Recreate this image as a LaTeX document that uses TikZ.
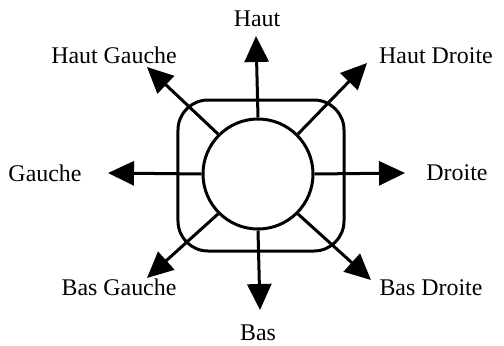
\documentclass[tikz,border=0pt]{standalone}
\usepackage{fontspec}
\setmainfont{Liberation Serif}
\usetikzlibrary{arrows.meta,positioning}

\begin{document}
\begin{tikzpicture}[x=1bp,y=1bp,
  thick line/.style={line width=3bp},
  arr/.style={thick line,-{Triangle[length=26bp,width=24bp]}},
  lbl/.style={font=\fontsize{24}{28}\selectfont,inner sep=0pt}]
\useasboundingbox (-258,-171) rectangle (246,174);
\node[thick line,draw,rounded corners=30bp,minimum width=166bp,minimum height=151bp] (frame) at (3,-1.5) {};
\node[thick line,draw,circle,minimum size=110bp,inner sep=0pt] (hub) at (0,0) {};
% arrow tips
\coordinate (tipN) at (-2,138);
\coordinate (tipS) at (2,-136);
\coordinate (tipW) at (-150,1);
\coordinate (tipE) at (147,1);
\coordinate (tipNW) at (-111,107);
\coordinate (tipNE) at (109,111);
\coordinate (tipSW) at (-111,-104);
\coordinate (tipSE) at (113,-106);
% labels
\node[lbl] (haut) at (-1,155) {Haut};
\node[lbl] (bas) at (0,-159) {Bas};
\node[lbl] (gauche) at (-213,1) {Gauche};
\node[lbl] (droite) at (199,1) {Droite};
\node[lbl] (hg) at (-144,119) {Haut Gauche};
\node[lbl] (hd) at (178,118) {Haut Droite};
\node[lbl] (bg) at (-139,-113) {Bas Gauche};
\node[lbl] (bd) at (173,-114) {Bas Droite};
\draw[arr] (hub.north) -- (tipN);
\draw[arr] (hub.south) -- (tipS);
\draw[arr] (hub.west) -- (tipW);
\draw[arr] (hub.east) -- (tipE);
\draw[arr] (hub.north west) -- (tipNW);
\draw[arr] (hub.north east) -- (tipNE);
\draw[arr] (hub.south west) -- (tipSW);
\draw[arr] (hub.south east) -- (tipSE);
\end{tikzpicture}
\end{document}
